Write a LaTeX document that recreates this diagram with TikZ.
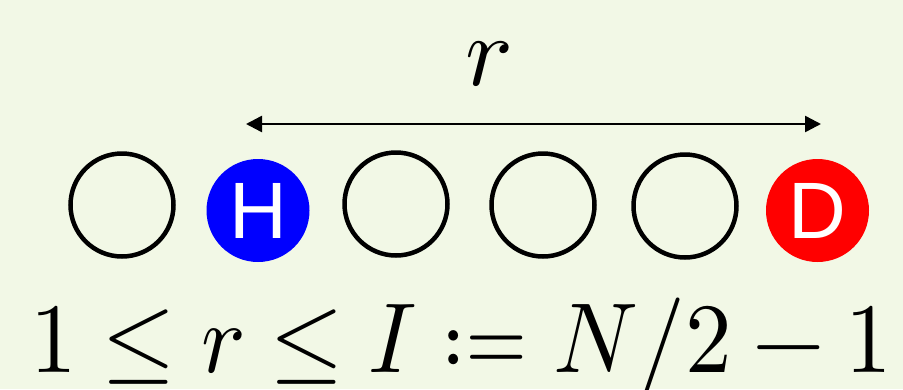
\documentclass[tikz,border=0pt]{standalone}
\usepackage{mathtools}
\usepackage{unicode-math}
\setmathfont{Latin Modern Math}
\newfontfamily\labelfont{Liberation Sans}
\usetikzlibrary{arrows.meta}
\definecolor{bgc}{RGB}{242,248,230}
\tikzset{
  site/.style={circle, draw=black, line width=4.5pt, minimum size=103pt, inner sep=0pt},
  spin/.style={circle, minimum size=103pt, inner sep=0pt, text=white, font=\labelfont\fontsize{80}{80}\selectfont},
  bigmath/.style={inner sep=0pt, font=\fontsize{100}{100}\selectfont},
  dist/.style={{Triangle[length=16pt,width=16pt]}-{Triangle[length=16pt,width=16pt]}, line width=2.5pt}
}
\begin{document}
\begin{tikzpicture}[x=1pt,y=-1pt]
\fill[bgc] (0,0) rectangle (903,389);
\useasboundingbox (0,0) rectangle (903,389);
\node[site] (s1) at (122,205) {};
\node[spin, fill=blue] (h) at (258,210.5) {H};
\node[site] (s3) at (396,204) {};
\node[site] (s4) at (543,205) {};
\node[site] (s5) at (685,206) {};
\node[spin, fill=red] (d) at (817.5,210.5) {D};
\coordinate (al) at (246,124);
\coordinate (ar) at (821,124);
\draw[dist] (al) -- (ar);
\node[bigmath, anchor=base] (rl) at (489,85) {$r$};
\node[bigmath, anchor=base west] (f) at (30,372) {\scalebox{1}[0.96]{\resizebox{862pt}{!}{\scalebox{0.9}[1]{$1\le r\le I\coloneqq N/2-1$}}}};
\end{tikzpicture}
\end{document}
